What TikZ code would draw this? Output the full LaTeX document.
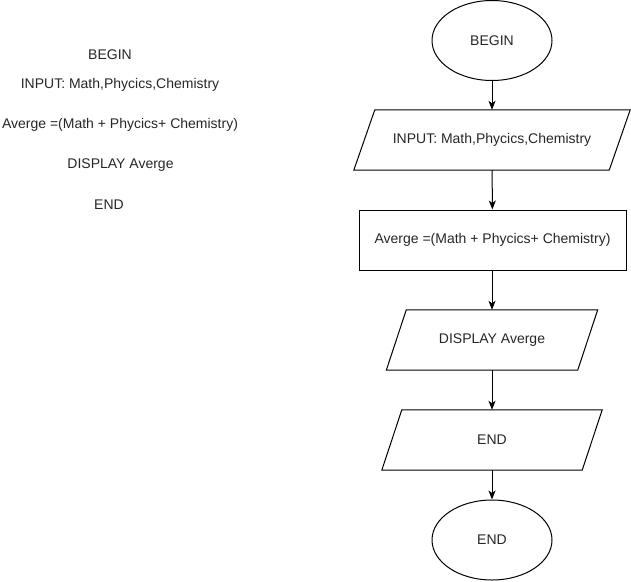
\documentclass[tikz,border=0pt]{standalone}
\usepackage{fontspec}
\setmainfont{Liberation Sans}
\usetikzlibrary{shapes.geometric,arrows.meta}
\begin{document}
\begin{tikzpicture}[x=1pt,y=-1pt,
  every node/.style={font=\fontsize{14}{16}\selectfont, text=black!85, inner sep=0pt},
  term/.style={ellipse, draw, line width=1pt, minimum width=120pt, minimum height=80pt},
  io/.style={rectangle, minimum height=60pt},
  slantbox/.style={line width=1pt, line join=miter},
  proc/.style={rectangle, draw, line width=1pt, minimum width=267pt, minimum height=60pt},
  arr/.style={line width=1pt, -{Stealth[length=9pt,width=7pt,inset=2.5pt]}},
  plain/.style={}]
\useasboundingbox (0,0) rectangle (631,581);
% left text
\node[plain] (t1) at (110,55) {BEGIN};
\node[plain] (t2) at (120,85) {INPUT: Math,Phycics,Chemistry};
\node[plain] (t3) at (120,125) {Averge =(Math + Phycics+ Chemistry)};
\node[plain] (t4) at (120.5,165) {DISPLAY Averge};
\node[plain] (t5) at (109,205) {END};
% flowchart
\node[term] (b) at (492,40.5) {BEGIN};
\node[io, minimum width=255pt] (in) at (492,140) {INPUT: Math,Phycics,Chemistry};
\draw[slantbox] ([xshift=10.5pt]in.north west) -- ([xshift=10.5pt]in.north east)
  -- ([xshift=-10.5pt]in.south east) -- ([xshift=-10.5pt]in.south west) -- cycle;
\node[proc] (avg) at (492.5,240) {Averge =(Math + Phycics+ Chemistry)};
\node[io, minimum width=191pt] (disp) at (492,340) {DISPLAY Averge};
\draw[slantbox] ([xshift=10pt]disp.north west) -- ([xshift=10pt]disp.north east)
  -- ([xshift=-10pt]disp.south east) -- ([xshift=-10pt]disp.south west) -- cycle;
\node[io, minimum width=200pt] (endio) at (492,440) {END};
\draw[slantbox] ([xshift=10pt]endio.north west) -- ([xshift=10pt]endio.north east)
  -- ([xshift=-10pt]endio.south east) -- ([xshift=-10pt]endio.south west) -- cycle;
\node[term] (e) at (492,540) {END};
\draw[arr] (b) -- (in);
\draw[arr] (in) -- (avg);
\draw[arr] (avg.south -| in) -- (disp);
\draw[arr] (disp) -- (endio);
\draw[arr] (endio) -- (e);
\end{tikzpicture}
\end{document}
